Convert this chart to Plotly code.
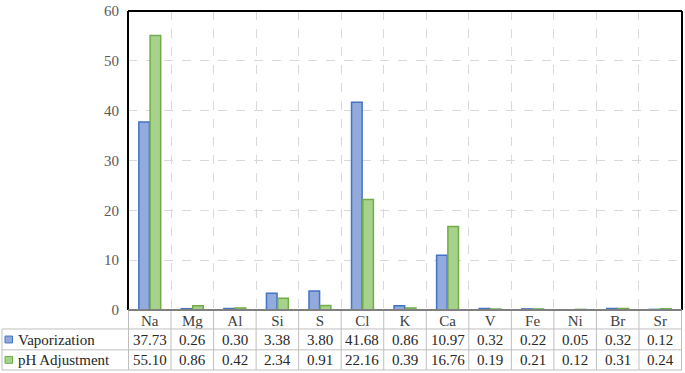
import plotly.graph_objects as go

categories = ["Na", "Mg", "Al", "Si", "S", "Cl", "K", "Ca", "V", "Fe", "Ni", "Br", "Sr"]
vaporization = [37.73, 0.26, 0.30, 3.38, 3.80, 41.68, 0.86, 10.97, 0.32, 0.22, 0.05, 0.32, 0.12]
ph_adjustment = [55.10, 0.86, 0.42, 2.34, 0.91, 22.16, 0.39, 16.76, 0.19, 0.21, 0.12, 0.31, 0.24]
series_names = ["Vaporization", "pH Adjustment"]
y_ticks = [0, 10, 20, 30, 40, 50, 60]

W, H = 685, 373
L, R, T, B = 128, 3, 6, 63
PW, PH = W - L - R, H - T - B
FONT = "Liberation Serif, serif"
fills = ["#93aadc", "#a6d28c"]
lines = ["#4472c4", "#70ad47"]


def px(p):
    return (p - L) / PW


def py(p):
    return (H - B - p) / PH


fig = go.Figure()
for name, vals, fc, lc in zip(series_names, [vaporization, ph_adjustment], fills, lines):
    fig.add_trace(go.Bar(x=categories, y=vals, name=name,
                         marker=dict(color=fc, line=dict(color=lc, width=1.5))))

shapes = []
annotations = []
n = len(categories)
grid_c = "#bfbfbf"
row_lines = [329.3, 350.5, 371]
for i in range(n + 1):
    shapes.append(dict(type="line", xref="x", yref="paper", x0=i - 0.5, x1=i - 0.5,
                       y0=0, y1=py(row_lines[-1]), line=dict(color=grid_c, width=1)))
shapes.append(dict(type="line", xref="paper", yref="paper", x0=px(2), x1=px(2),
                   y0=py(row_lines[0]), y1=py(row_lines[-1]), line=dict(color=grid_c, width=1)))
for yl in row_lines:
    shapes.append(dict(type="line", xref="paper", yref="paper", x0=px(2), x1=1,
                       y0=py(yl), y1=py(yl), line=dict(color=grid_c, width=1)))
shapes.append(dict(type="line", xref="paper", yref="paper", x0=0, x1=1, y0=1, y1=1,
                   line=dict(color="black", width=2)))
shapes.append(dict(type="line", xref="paper", yref="paper", x0=0, x1=0, y0=0, y1=1,
                   line=dict(color="black", width=2)))
shapes.append(dict(type="line", xref="paper", yref="paper", x0=1, x1=1, y0=0, y1=1,
                   line=dict(color="black", width=2)))
shapes.append(dict(type="line", xref="paper", yref="paper", x0=0, x1=1, y0=0, y1=0,
                   line=dict(color="#808080", width=2)))

row_centers = [340, 360.7]
for r, (name, vals) in enumerate(zip(series_names, [vaporization, ph_adjustment])):
    yc = row_centers[r]
    shapes.append(dict(type="rect", xref="paper", yref="paper", x0=px(5), x1=px(12.5),
                       y0=py(yc - 3.5), y1=py(yc + 3.5), fillcolor=fills[r],
                       line=dict(color=lines[r], width=1)))
    annotations.append(dict(xref="paper", yref="paper", x=px(16), y=py(yc), text=name,
                            showarrow=False, xanchor="left", yanchor="middle",
                            font=dict(family=FONT, size=15, color="#262626")))
    for c, v in zip(categories, vals):
        annotations.append(dict(xref="x", yref="paper", x=c, y=py(yc), text=f"{v:.2f}",
                                showarrow=False, xanchor="center", yanchor="middle",
                                font=dict(family=FONT, size=15, color="#262626")))

fig.update_layout(
    width=W, height=H, margin=dict(l=L, r=R, t=T, b=B),
    paper_bgcolor="white", plot_bgcolor="white",
    barmode="group", bargap=0.47, bargroupgap=0.06, showlegend=False,
    font=dict(family=FONT, color="#595959"),
    shapes=shapes, annotations=annotations,
    xaxis=dict(type="category", tickson="boundaries", showgrid=True, gridcolor="#d9d9d9",
               griddash="dash", gridwidth=1, ticks="", showline=False,
               tickfont=dict(family=FONT, size=15, color="#404040"), ticklabelstandoff=0),
    yaxis=dict(range=[0, 60], tickvals=y_ticks, showgrid=True, gridcolor="#d9d9d9",
               griddash="dash", zeroline=False, showline=False, ticks="",
               ticklabelstandoff=8, ticklabeloverflow="allow",
               tickfont=dict(family=FONT, size=15, color="#595959")),
)
fig.write_html("out.html", config={"displayModeBar": False},
               post_script="document.body.style.margin='0';")
